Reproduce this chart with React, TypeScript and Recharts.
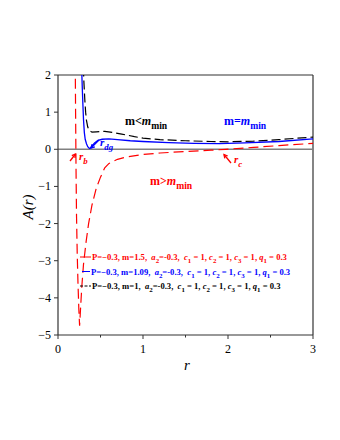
import React from "react";
import { LineChart, Line, XAxis, YAxis, ReferenceLine } from "recharts";

// m = 1.5 (red dashed)
const redR = [0.203, 0.207, 0.212, 0.218, 0.226, 0.235, 0.245, 0.254, 0.265, 0.28, 0.3, 0.33, 0.36, 0.4, 0.45, 0.5, 0.55, 0.6, 0.7, 0.8, 1.0, 1.2, 1.5, 1.8, 1.97, 2.3, 2.6, 3.0];
const redA = [2.3, 1.0, -0.5, -1.8, -2.8, -3.6, -4.3, -4.75, -4.3, -3.7, -3.1, -2.5, -2.0, -1.5, -1.05, -0.75, -0.5, -0.38, -0.27, -0.21, -0.14, -0.1, -0.06, -0.025, 0, 0.05, 0.1, 0.16];

// m = 1.09 (blue solid)
const blueR = [0.278, 0.285, 0.293, 0.3, 0.31, 0.32, 0.335, 0.35, 0.37, 0.38, 0.4, 0.43, 0.47, 0.52, 0.6, 0.7, 0.85, 1.0, 1.3, 1.6, 1.9, 2.2, 2.6, 3.0];
const blueA = [2.2, 1.7, 1.2, 0.8, 0.45, 0.27, 0.15, 0.07, 0.02, 0.03, 0.09, 0.17, 0.24, 0.27, 0.28, 0.26, 0.23, 0.21, 0.18, 0.16, 0.155, 0.17, 0.21, 0.28];

// m = 1 (black dashed)
const blackR = [0.298, 0.305, 0.315, 0.325, 0.335, 0.35, 0.37, 0.4, 0.45, 0.5, 0.55, 0.65, 0.75, 0.9, 1.0, 1.2, 1.5, 1.8, 2.0, 2.3, 2.6, 3.0];
const blackA = [2.2, 1.8, 1.35, 1.0, 0.78, 0.6, 0.5, 0.46, 0.47, 0.48, 0.48, 0.45, 0.41, 0.34, 0.3, 0.26, 0.23, 0.21, 0.2, 0.22, 0.26, 0.33];

const X_TICKS = [0, 0.5, 1, 1.5, 2, 2.5, 3];
const Y_TICKS = [-5, -4.5, -4, -3.5, -3, -2.5, -2, -1.5, -1, -0.5, 0, 0.5, 1, 1.5, 2];

const RED = "#ff0000";
const BLUE = "#0000ff";
const BLACK = "#000000";
const AXIS = "#333333";
const SERIF = "'Liberation Serif', 'DejaVu Serif', serif";

const toRows = (rs: number[], as: number[]) => rs.map((r, i) => ({ r, A: as[i] }));
const redData = toRows(redR, redA);
const blueData = toRows(blueR, blueA);
const blackData = toRows(blackR, blackA);

const fmt = (v: number) => (v < 0 ? `\u2212${Math.abs(v)}` : `${v}`);

function XTick({ x, y, payload }: any) {
  const v = payload.value as number;
  const major = Number.isInteger(v);
  return (
    <g>
      <line x1={x} x2={x} y1={y} y2={y + (major ? 4 : 2.5)} stroke={AXIS} strokeWidth={1} />
      {major && (
        <text x={x} y={y + 18} textAnchor="middle" fontFamily={SERIF} fontSize={12} fill="#000">
          {v}
        </text>
      )}
    </g>
  );
}

function YTick({ x, y, payload }: any) {
  const v = payload.value as number;
  const major = Number.isInteger(v);
  return (
    <g>
      <line x1={x - (major ? 4 : 2.5)} x2={x} y1={y} y2={y} stroke={AXIS} strokeWidth={1} />
      {major && (
        <text x={x - 7} y={y + 4} textAnchor="end" fontFamily={SERIF} fontSize={12} fill="#000">
          {fmt(v)}
        </text>
      )}
    </g>
  );
}

// [text, italic, subscript]
type Seg = [string, boolean?, boolean?];

function Rich({ x, y, segs, size, color }: { x: number; y: number; segs: Seg[]; size: number; color: string }) {
  let shift = 0;
  return (
    <text x={x} y={y} fontFamily={SERIF} fontSize={size} fontWeight="bold" fill={color} style={{ whiteSpace: "pre" }}>
      {segs.map(([t, it, sub], i) => {
        const want = sub ? size * 0.35 : 0;
        const dy = want - shift;
        shift = want;
        return (
          <tspan key={i} dy={dy} fontStyle={it ? "italic" : "normal"} fontSize={sub ? size * 0.8 : size}>
            {t}
          </tspan>
        );
      })}
    </text>
  );
}

const legendSegs = (m: string): Seg[] => [
  [`P=\u22120.3, m=${m},  `],
  ["a", true],
  ["2", false, true],
  ["=-0.3,  "],
  ["c", true],
  ["1", false, true],
  [" = 1, "],
  ["c", true],
  ["2", false, true],
  [" = 1, "],
  ["c", true],
  ["3", false, true],
  [" = 1, "],
  ["q", true],
  ["1", false, true],
  [" = 0.3"],
];

function Arrow({ x1, y1, x2, y2, color }: { x1: number; y1: number; x2: number; y2: number; color: string }) {
  const ang = Math.atan2(y2 - y1, x2 - x1);
  const L = 4;
  const a1 = ang + Math.PI - 0.5;
  const a2 = ang + Math.PI + 0.5;
  return (
    <g stroke={color} strokeWidth={1.3} fill="none">
      <line x1={x1} y1={y1} x2={x2} y2={y2} />
      <polyline
        points={`${x2 + L * Math.cos(a1)},${y2 + L * Math.sin(a1)} ${x2},${y2} ${x2 + L * Math.cos(a2)},${y2 + L * Math.sin(a2)}`}
      />
    </g>
  );
}

export default function App() {
  return (
    <div style={{ position: "absolute", left: 0, top: 0, width: 340, height: 440, background: "#fff" }}>
      <LineChart width={340} height={440} margin={{ top: 75, right: 27, bottom: 75, left: 0 }}>
        <XAxis
          type="number"
          dataKey="r"
          domain={[0, 3]}
          ticks={X_TICKS}
          allowDataOverflow
          height={30}
          tickSize={0}
          tickMargin={0}
          tickLine={false}
          tick={<XTick />}
          axisLine={{ stroke: AXIS, strokeWidth: 1.2 }}
        />
        <YAxis
          type="number"
          domain={[-5, 2]}
          ticks={Y_TICKS}
          allowDataOverflow
          width={58}
          tickSize={0}
          tickMargin={0}
          tickLine={false}
          tick={<YTick />}
          axisLine={{ stroke: AXIS, strokeWidth: 1.2 }}
        />
        <ReferenceLine y={2} stroke={AXIS} strokeWidth={1.2} />
        <ReferenceLine x={3} stroke={AXIS} strokeWidth={1.2} />
        <ReferenceLine y={0} stroke="#808080" strokeWidth={1.5} />
        <Line data={redData} dataKey="A" type="linear" stroke={RED} strokeWidth={1.2} strokeDasharray="10 5" dot={false} isAnimationActive={false} />
        <Line data={blackData} dataKey="A" type="linear" stroke={BLACK} strokeWidth={1.2} strokeDasharray="9 4" dot={false} isAnimationActive={false} />
        <Line data={blueData} dataKey="A" type="linear" stroke={BLUE} strokeWidth={1.3} dot={false} isAnimationActive={false} />
      </LineChart>
      <svg width={340} height={440} style={{ position: "absolute", left: 0, top: 0, pointerEvents: "none" }}>
        <text x={33} y={207} transform="rotate(-90 33 207)" textAnchor="middle" fontFamily={SERIF} fontStyle="italic" fontSize={15}>
          A(r)
        </text>
        <text x={187} y={370} textAnchor="middle" fontFamily={SERIF} fontStyle="italic" fontSize={15}>
          r
        </text>

        <Rich x={125} y={125} size={12} color={BLACK} segs={[["m<"], ["m", true], ["min", false, true]]} />
        <Rich x={224} y={125} size={12} color={BLUE} segs={[["m="], ["m", true], ["min", false, true]]} />
        <Rich x={150} y={185} size={12} color={RED} segs={[["m>"], ["m", true], ["min", false, true]]} />

        <Arrow x1={70} y1={161} x2={75.5} y2={154} color={RED} />
        <Rich x={79} y={160} size={11} color={RED} segs={[["r", true], ["b", true, true]]} />

        <Arrow x1={99} y1={140} x2={91} y2={148} color={BLUE} />
        <Rich x={100} y={146} size={11} color={BLUE} segs={[["r", true], ["dg", true, true]]} />

        <Arrow x1={231} y1={163} x2={224} y2={154.5} color={RED} />
        <Rich x={234} y={163} size={11} color={RED} segs={[["r", true], ["c", true, true]]} />

        <line x1={80} x2={91} y1={257} y2={257} stroke={RED} strokeWidth={1} />
        <Rich x={92} y={260} size={8.6} color={RED} segs={legendSegs("1.5")} />
        <line x1={82} x2={90} y1={271.5} y2={271.5} stroke={BLUE} strokeWidth={1} />
        <Rich x={91} y={274.5} size={8.6} color={BLUE} segs={legendSegs("1.09")} />
        <line x1={80} x2={91} y1={286} y2={286} stroke={BLACK} strokeWidth={1} strokeDasharray="3 1.5" />
        <Rich x={92} y={289} size={8.6} color={BLACK} segs={legendSegs("1")} />
      </svg>
    </div>
  );
}
